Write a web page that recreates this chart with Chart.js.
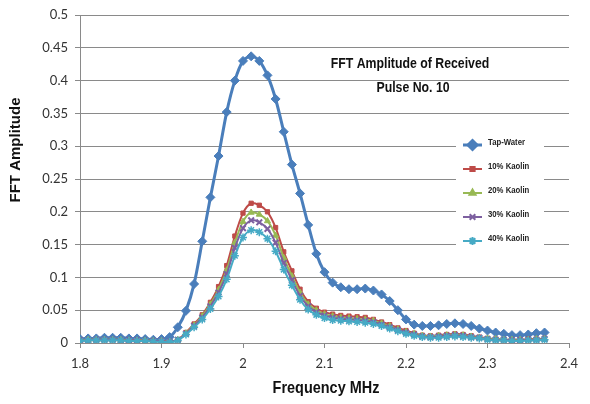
<!DOCTYPE html>
<html>
<head>
<meta charset="utf-8">
<script src="https://cdn.jsdelivr.net/npm/chart.js@4"></script>
<style>
  html, body { margin: 0; padding: 0; background: #fff; }
  #wrap { width: 590px; height: 404px; }
</style>
</head>
<body>
<div id="wrap"><canvas id="chartFFT" width="590" height="404"></canvas></div>
<script>
// data (frequency in MHz, step 0.01)
const freqs = [1.80,1.81,1.82,1.83,1.84,1.85,1.86,1.87,1.88,1.89,
  1.90,1.91,1.92,1.93,1.94,1.95,1.96,1.97,1.98,1.99,
  2.00,2.01,2.02,2.03,2.04,2.05,2.06,2.07,2.08,2.09,
  2.10,2.11,2.12,2.13,2.14,2.15,2.16,2.17,2.18,2.19,
  2.20,2.21,2.22,2.23,2.24,2.25,2.26,2.27,2.28,2.29,
  2.30,2.31,2.32,2.33,2.34,2.35,2.36,2.37];

const tapWater = [0.006,0.007,0.007,0.008,0.008,0.008,0.007,0.007,0.006,0.005,
  0.006,0.009,0.024,0.049,0.090,0.155,0.222,0.285,0.352,0.400,
  0.430,0.437,0.430,0.408,0.372,0.322,0.272,0.228,0.180,0.136,
  0.108,0.092,0.085,0.082,0.082,0.083,0.080,0.074,0.064,0.050,
  0.036,0.028,0.026,0.026,0.027,0.029,0.030,0.029,0.026,0.022,
  0.019,0.016,0.014,0.012,0.012,0.013,0.015,0.016];

const kaolin10 = [0.004,0.005,0.005,0.005,0.005,0.005,0.004,0.004,0.004,0.003,
  0.003,0.002,0.005,0.016,0.029,0.043,0.062,0.086,0.118,0.163,
  0.198,0.213,0.210,0.200,0.176,0.139,0.110,0.082,0.063,0.053,
  0.047,0.044,0.042,0.041,0.040,0.039,0.036,0.032,0.028,0.023,
  0.019,0.015,0.012,0.011,0.012,0.013,0.014,0.013,0.011,0.009,
  0.007,0.006,0.005,0.005,0.005,0.006,0.006,0.007];

const kaolin20 = [0.004,0.005,0.005,0.005,0.005,0.005,0.004,0.004,0.004,0.003,
  0.003,0.002,0.005,0.015,0.027,0.041,0.059,0.081,0.111,0.153,
  0.185,0.199,0.196,0.186,0.164,0.130,0.102,0.077,0.059,0.050,
  0.044,0.041,0.039,0.038,0.037,0.036,0.034,0.030,0.026,0.021,
  0.017,0.014,0.011,0.010,0.011,0.012,0.013,0.012,0.010,0.008,
  0.007,0.006,0.005,0.005,0.005,0.005,0.006,0.006];

const kaolin30 = [0.004,0.004,0.005,0.005,0.005,0.004,0.004,0.004,0.003,0.003,
  0.003,0.002,0.005,0.014,0.026,0.039,0.056,0.077,0.105,0.145,
  0.175,0.187,0.184,0.174,0.153,0.122,0.096,0.072,0.056,0.047,
  0.042,0.039,0.037,0.036,0.035,0.034,0.032,0.028,0.024,0.020,
  0.016,0.013,0.010,0.009,0.010,0.011,0.012,0.011,0.009,0.008,
  0.006,0.005,0.005,0.004,0.004,0.005,0.005,0.006];

const kaolin40 = [0.003,0.004,0.004,0.004,0.004,0.004,0.003,0.003,0.003,0.002,
  0.002,0.001,0.004,0.013,0.024,0.036,0.052,0.071,0.097,0.133,
  0.161,0.172,0.169,0.159,0.140,0.112,0.088,0.066,0.051,0.043,
  0.038,0.035,0.034,0.033,0.032,0.031,0.029,0.026,0.022,0.018,
  0.014,0.011,0.009,0.008,0.008,0.009,0.010,0.009,0.008,0.007,
  0.005,0.004,0.004,0.003,0.003,0.004,0.004,0.005];

const seriesNames = ['Tap-Water', '10% Kaolin', '20% Kaolin', '30% Kaolin', '40% Kaolin'];
const xTicks = [1.8, 1.9, 2, 2.1, 2.2, 2.3, 2.4];
const yTicks = [0, 0.05, 0.1, 0.15, 0.2, 0.25, 0.3, 0.35, 0.4, 0.45, 0.5];

const toPoints = arr => arr.map((v, i) => ({ x: freqs[i], y: v }));

const styles = [
  { color: '#4a7ebb', style: 'rectRot', radius: 4.5, lw: 3, bw: 1 },
  { color: '#be4b48', style: 'rect', radius: 3, lw: 2, bw: 1 },
  { color: '#98b954', style: 'triangle', radius: 3.5, lw: 2, bw: 1 },
  { color: '#7d60a0', style: 'crossRot', radius: 4, lw: 2, bw: 2 },
  { color: '#46aac5', style: 'star', radius: 4, lw: 2, bw: 1.5 }
];
const allSeries = [tapWater, kaolin10, kaolin20, kaolin30, kaolin40];

const datasets = allSeries.map((arr, i) => ({
  label: seriesNames[i],
  data: toPoints(arr),
  borderColor: styles[i].color,
  backgroundColor: styles[i].color,
  borderWidth: styles[i].lw,
  pointStyle: styles[i].style,
  pointRadius: styles[i].radius,
  pointBorderWidth: styles[i].bw,
  pointBackgroundColor: styles[i].color,
  pointBorderColor: styles[i].color,
  tension: 0.3,
  order: 5 - i
}));

// narrow bold text (no condensed font installed, so squeeze it)
function narrowText(c, txt, x, y, sx) {
  c.save();
  c.translate(x, y);
  c.scale(sx, 1);
  c.fillText(txt, 0, 0);
  c.restore();
}

// titles, y label and legend box drawn on top
const extras = {
  id: 'extras',
  afterDatasetsDraw(chart) {
    const c = chart.ctx;
    c.save();
    // legend box
    c.fillStyle = '#fff';
    c.fillRect(456, 131, 88, 123);
    const ly = [145, 169, 193, 217, 241];
    styles.forEach((s, i) => {
      c.strokeStyle = s.color;
      c.lineWidth = s.lw;
      c.beginPath();
      c.moveTo(463, ly[i]);
      c.lineTo(482, ly[i]);
      c.stroke();
      c.fillStyle = s.color;
      Chart.helpers.drawPoint(c, { pointStyle: s.style, radius: s.radius, borderWidth: s.bw, rotation: 0 }, 472.5, ly[i]);
      c.fillStyle = '#222';
      c.font = "bold 9px 'Liberation Sans', sans-serif";
      c.textAlign = 'left';
      c.textBaseline = 'middle';
      narrowText(c, seriesNames[i], 488, ly[i] - 2, 0.86);
    });

    // chart title inside the plot
    c.fillStyle = '#111';
    c.font = "bold 15px 'Liberation Sans', sans-serif";
    c.textAlign = 'center';
    c.textBaseline = 'middle';
    narrowText(c, 'FFT Amplitude of Received', 410, 64, 0.82);
    narrowText(c, 'Pulse No. 10', 413, 88, 0.82);

    // axis titles
    c.font = "bold 17px 'Liberation Sans', sans-serif";
    narrowText(c, 'Frequency MHz', 326, 388, 0.85);
    c.save();
    c.translate(16, 150);
    c.rotate(-Math.PI / 2);
    c.font = "bold 15px 'Liberation Sans', sans-serif";
    c.fillText('FFT Amplitude', 0, 0);
    c.restore();
    c.restore();
  }
};

new Chart(document.getElementById('chartFFT'), {
  type: 'line',
  data: { datasets: datasets },
  options: {
    responsive: false,
    animation: false,
    layout: { padding: { top: 15, right: 21, left: 0, bottom: 0 } },
    plugins: { legend: { display: false }, tooltip: { enabled: false } },
    scales: {
      x: {
        type: 'linear',
        min: 1.8,
        max: 2.4,
        afterBuildTicks: s => { s.ticks = xTicks.map(v => ({ value: v })); },
        afterFit: s => { s.height = 61; },
        grid: { drawOnChartArea: false, tickLength: 5, color: '#8a8a8a' },
        border: { color: '#8a8a8a', width: 1 },
        ticks: { color: '#333', padding: 8, font: { family: 'Lato', size: 13 }, callback: v => String(v) }
      },
      y: {
        min: 0,
        max: 0.5,
        afterBuildTicks: s => { s.ticks = yTicks.map(v => ({ value: v })); },
        afterFit: s => { s.width = 80; },
        grid: { color: '#8a8a8a', lineWidth: 1, tickLength: 5 },
        border: { color: '#8a8a8a', width: 1 },
        ticks: { color: '#333', padding: 7, font: { family: 'Lato', size: 13 }, callback: v => String(v) }
      }
    }
  },
  plugins: [extras]
});
</script>
</body>
</html>
